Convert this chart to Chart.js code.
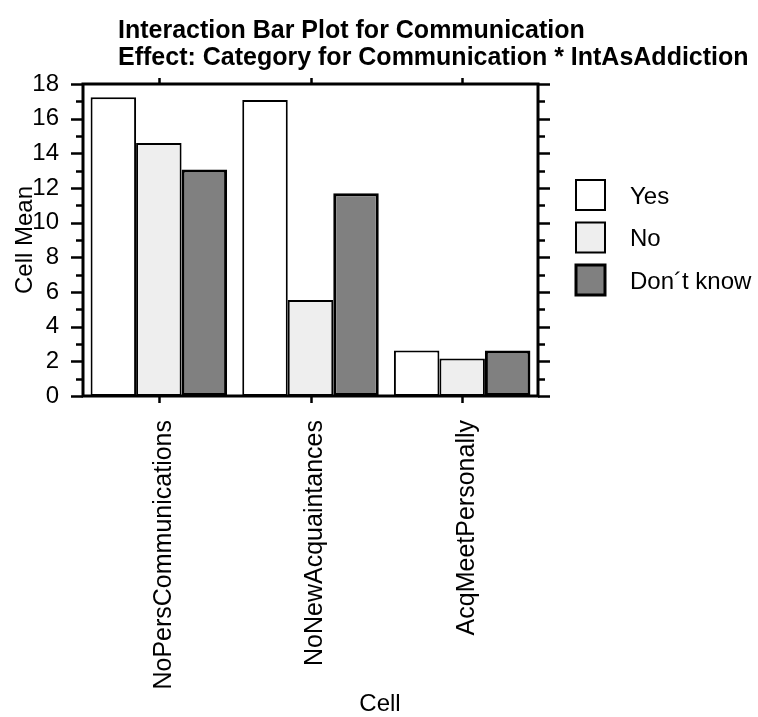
<!DOCTYPE html>
<html>
<head>
<meta charset="utf-8">
<script src="https://cdn.jsdelivr.net/npm/chart.js@4.4.1/dist/chart.umd.min.js"></script>
<style>
  html, body { margin: 0; padding: 0; background: #fff; }
  #wrap { width: 758px; height: 717px; }
</style>
</head>
<body>
<div id="wrap"><canvas id="chart" width="758" height="717"></canvas></div>
<script>
// datos del gráfico
const categorias = ['NoPersCommunications', 'NoNewAcquaintances', 'AcqMeetPersonally'];
const valoresYes = [17.23, 17.08, 2.62];
const valoresNo = [14.6, 5.54, 2.17];
const valoresNoSabe = [13.07, 11.69, 2.62];
const seriesNombres = ['Yes', 'No', 'Don\u00b4t know'];
const titulo = ['Interaction Bar Plot for Communication', 'Effect: Category for Communication * IntAsAddiction'];

const FUENTE = '"Liberation Sans", Arial, sans-serif';

// marco, marcas de ejes, títulos y leyenda
const decoracion = {
    id: 'decoracion',
    afterDatasetsDraw(chart) {
        const { ctx, chartArea: a, scales } = chart;
        const y = scales.y, x = scales.x;
        ctx.save();
        ctx.strokeStyle = '#000';
        ctx.lineWidth = 3;
        ctx.strokeRect(a.left, a.top, a.right - a.left, a.bottom - a.top);

        ctx.lineWidth = 2.5;
        ctx.beginPath();
        for (let v = 0; v <= 18; v++) {
            const py = Math.round(y.getPixelForValue(v)) + 0.5;
            const largo = v % 2 === 0 ? 12 : 7;
            ctx.moveTo(a.left - largo, py); ctx.lineTo(a.left, py);
            ctx.moveTo(a.right, py); ctx.lineTo(a.right + largo, py);
        }
        categorias.forEach((c, i) => {
            const px = Math.round(x.getPixelForValue(i)) + 0.5;
            ctx.moveTo(px, a.top - 6); ctx.lineTo(px, a.top);
            ctx.moveTo(px, a.bottom); ctx.lineTo(px, a.bottom + 7);
        });
        ctx.stroke();

        // título
        ctx.fillStyle = '#000';
        ctx.font = 'bold 25px ' + FUENTE;
        ctx.textAlign = 'left';
        ctx.textBaseline = 'middle';
        ctx.fillText(titulo[0], 118, 31);
        ctx.fillText(titulo[1], 118, 58);

        // título del eje x
        ctx.font = '24px ' + FUENTE;
        ctx.textAlign = 'center';
        ctx.fillText('Cell', 380, 704);

        // leyenda
        ctx.textAlign = 'left';
        chart.data.datasets.forEach((ds, i) => {
            const cy = 195 + i * 42.5;
            ctx.fillStyle = ds.backgroundColor;
            ctx.fillRect(576, cy - 15, 29, 30);
            ctx.lineWidth = ds.borderWidth;
            ctx.strokeStyle = '#000';
            ctx.strokeRect(576, cy - 15, 29, 30);
            ctx.fillStyle = '#000';
            ctx.fillText(ds.label, 630, cy + 2);
        });
        ctx.restore();
    }
};

new Chart(document.getElementById('chart'), {
    type: 'bar',
    data: {
        labels: categorias,
        datasets: [
            { label: seriesNombres[0], data: valoresYes, backgroundColor: '#ffffff', borderColor: '#000', borderWidth: 2 },
            { label: seriesNombres[1], data: valoresNo, backgroundColor: '#eeeeee', borderColor: '#000', borderWidth: 2 },
            { label: seriesNombres[2], data: valoresNoSabe, backgroundColor: '#808080', borderColor: '#000', borderWidth: 3 }
        ]
    },
    options: {
        responsive: false,
        devicePixelRatio: 1,
        animation: false,
        categoryPercentage: 0.9,
        barPercentage: 1,
        datasets: { bar: { borderSkipped: false } },
        layout: { padding: { top: 84, right: 220, left: 0, bottom: 0 } },
        plugins: { legend: { display: false }, title: { display: false }, tooltip: { enabled: false } },
        scales: {
            x: {
                grid: { display: false, drawTicks: false },
                border: { display: false },
                ticks: { minRotation: 90, maxRotation: 90, padding: 24, labelOffset: 5, color: '#000', font: { family: FUENTE, size: 25 } },
                afterFit: s => { s.height = 321; }
            },
            y: {
                min: 0,
                max: 18,
                grid: { display: false, drawTicks: false },
                border: { display: false },
                ticks: { stepSize: 2, padding: 24, color: '#000', font: { family: FUENTE, size: 24 } },
                title: { display: true, text: 'Cell Mean', color: '#000', font: { family: FUENTE, size: 24, lineHeight: 1 }, padding: { top: 13 } },
                afterFit: s => { s.width = 83; }
            }
        }
    },
    plugins: [decoracion]
});
</script>
</body>
</html>
